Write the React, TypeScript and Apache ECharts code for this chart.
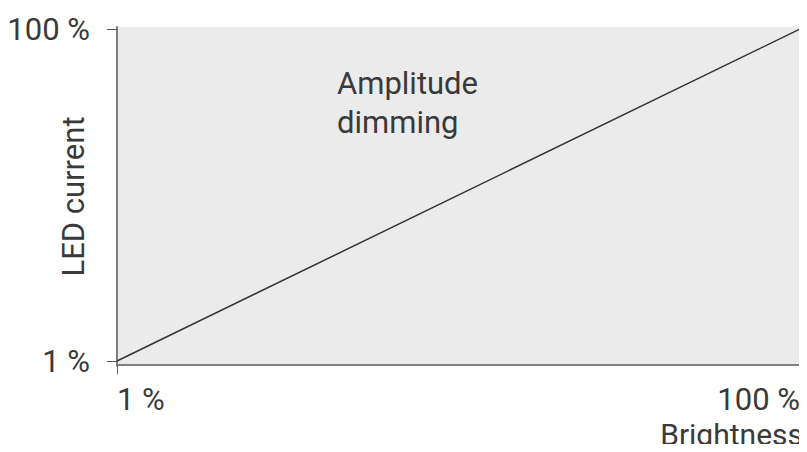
import React, { useEffect, useRef } from "react";
import * as echarts from "echarts";

const lineX: number[] = [1, 100];
const lineY: number[] = [1, 100];
const tickValues: number[] = [1, 100];
const xName = "Brightness";
const yName = "LED current";
const annotation = "Amplitude\ndimming";

const FONT = "Roboto";
const TEXT = "#3a3a3a";

export default function App() {
  const ref = useRef<HTMLDivElement>(null);
  useEffect(() => {
    if (!ref.current) return;
    const chart = echarts.init(ref.current, null, { renderer: "svg" });
    chart.setOption({
      animation: false,
      backgroundColor: "#ffffff",
      grid: {
        left: 117,
        right: 7,
        top: 27,
        bottom: 86,
        show: true,
        backgroundColor: "#ebebeb",
        borderWidth: 0,
        containLabel: false,
        outerBoundsMode: "none",
      },
      xAxis: {
        type: "value",
        min: 1,
        max: 100,
        splitLine: { show: false },
        axisLine: { show: true, lineStyle: { color: "#7f7f7f", width: 2 } },
        axisTick: {
          show: true,
          customValues: tickValues,
          length: 10,
          lineStyle: { color: "#666", width: 1 },
        },
        axisLabel: {
          customValues: tickValues,
          formatter: (v: number) => `${v} %`,
          fontFamily: FONT,
          fontSize: 31,
          color: TEXT,
          margin: 18,
          alignMinLabel: "left",
          alignMaxLabel: "right",
        },
      },
      yAxis: {
        type: "value",
        min: -0.49,
        max: 100.6,
        splitLine: { show: false },
        axisLine: { show: true, lineStyle: { color: "#7f7f7f", width: 2 } },
        axisTick: {
          show: true,
          customValues: tickValues,
          length: 10,
          lineStyle: { color: "#555", width: 1 },
        },
        axisLabel: {
          customValues: tickValues,
          formatter: (v: number) => `${v} %`,
          fontFamily: FONT,
          fontSize: 31,
          color: TEXT,
          margin: 27,
        },
        name: yName,
        nameLocation: "middle",
        nameGap: 28,
        nameRotate: 90,
        nameMoveOverlap: false,
        nameTextStyle: { fontFamily: FONT, fontSize: 31, color: TEXT },
      },
      graphic: [
        {
          type: "text",
          right: 4,
          top: 419,
          style: {
            text: xName,
            fontFamily: FONT,
            fontSize: 30,
            fill: TEXT,
          },
        },
        {
          type: "text",
          left: 337,
          top: 64,
          style: {
            text: annotation,
            fontFamily: FONT,
            fontSize: 31,
            lineHeight: 39,
            fill: TEXT,
          },
        },
      ],
      series: [
        {
          type: "line",
          data: lineX.map((x, i) => [x, lineY[i]]),
          showSymbol: false,
          lineStyle: { color: "#333", width: 1.5 },
        },
      ],
    });
    return () => chart.dispose();
  }, []);
  return <div ref={ref} style={{ width: 807, height: 452, margin: -8 }} />;
}
